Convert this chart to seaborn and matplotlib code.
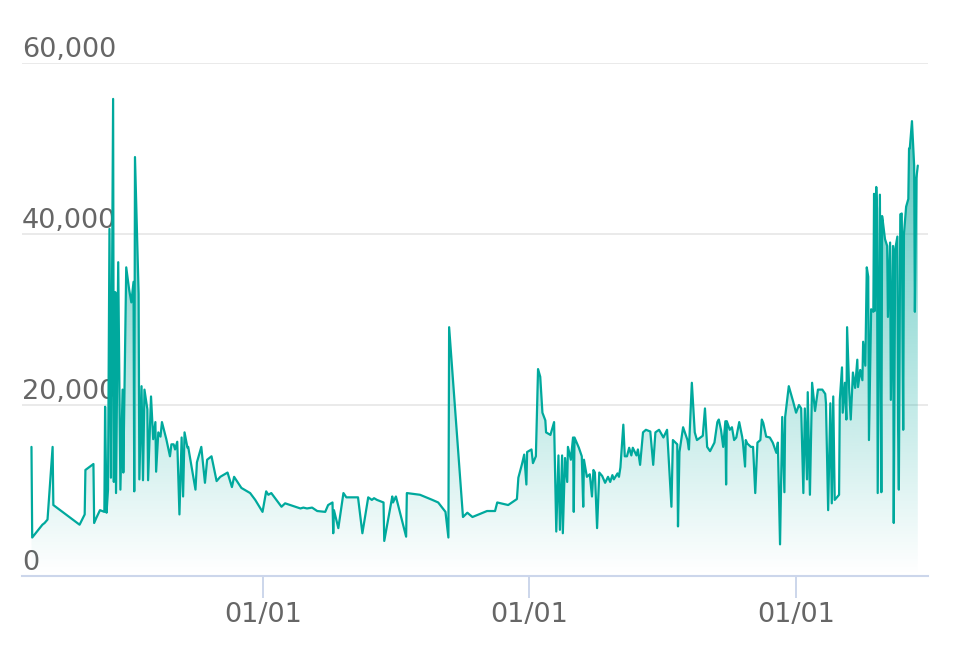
import numpy as np
import pandas as pd
import matplotlib
matplotlib.use("Agg")
import matplotlib.pyplot as plt
import matplotlib.dates as mdates
from matplotlib.colors import to_rgb
from matplotlib.ticker import FuncFormatter
import seaborn as sns

# data: days after 2019-01-01 and the value on that day
start = pd.Timestamp("2019-01-01")
day_offsets = [
    -318, -317, -303, -300, -296, -289, -288, -252, -245, -244, -233, -232, -229, -224,
    -218, -217, -215, -213, -211, -209, -206, -205, -203, -202, -199, -196, -193, -192,
    -188, -184, -181, -178, -177, -176, -171, -170, -167, -165, -163, -159, -158, -154,
    -151, -148, -147, -144, -141, -139, -133, -128, -126,
    -123, -121, -118, -115, -112, -110, -108, -104, -103, -93, -91, -85, -80, -77, -71,
    -64, -59, -49, -43, -40, -30, -18, -11, -1, 4, 7, 11, 25, 30, 51, 55, 60, 67, 74, 85, 89,
    95, 96, 97, 103, 110, 114, 130, 136, 144, 149, 152, 156, 165, 166, 177, 178, 182, 196,
    197, 215, 232, 240, 250, 254, 255, 274, 280, 287, 307, 318, 321, 336, 348, 350, 355,
    358, 361, 362, 368, 370, 374, 377, 380, 383, 387, 388, 394, 399, 402, 405, 407, 410,
    411, 414, 417, 418, 422, 425, 426, 427, 433, 437, 439, 440, 444, 448, 451, 453, 455,
    458, 461, 465, 469, 473, 476, 479, 481, 486, 488, 490, 494, 496, 499, 502, 505, 507,
    512, 514, 517,
    521, 525, 531, 535, 538, 543, 549, 554, 560, 562, 568, 569, 571, 576, 582, 584, 588,
    592, 595, 603, 606, 609, 613, 619, 623, 625, 628, 631, 634, 635, 636, 640, 643, 646,
    649, 653, 657, 658, 661, 662, 664, 669, 672, 675, 678, 682, 684, 686, 690, 695, 699,
    704, 706, 709, 712, 715, 716, 721, 727, 731, 735, 738, 741, 743, 746, 747, 750, 753,
    757, 761, 767, 771, 772, 775, 778, 780, 782, 784, 787, 790, 791, 794, 795, 798, 800,
    801, 804, 806, 809, 812, 815, 816, 819, 822, 823, 826, 828, 830, 831, 834, 837, 838,
    839, 841, 842, 843, 846, 848, 849, 850, 853, 856, 857, 860, 861, 864, 865, 867, 870,
    871, 872, 874, 876, 878, 879, 882, 885, 886, 887, 890, 893, 894, 896, 898,
]
values = [
    15100, 4500, 6000, 6200, 6600, 15100, 8300, 6000, 7200, 12400, 13100, 6200, 6800, 7700,
    7500, 19800, 7400, 10100, 40600, 11500, 55800, 11000, 33200, 9700, 36700, 10100, 21800, 12100,
    36100, 33500, 32000, 34400, 9900, 49000, 33000, 11300, 22200, 11200, 21800, 19500, 11200, 21000,
    16000, 18000, 12200, 16800, 16300, 18000, 16000, 14000, 15400,
    15400, 14800, 15700, 7200, 16200, 9300, 16800, 15000, 15100, 10100, 13300, 15100, 10900, 13600, 14000,
    11100, 11600, 12100, 10400, 11600, 10300, 9700, 8900, 7500, 9900, 9500, 9700, 8100, 8500, 7900, 8000,
    7900, 8000, 7600, 7500, 8300,
    8600, 5000, 7700, 5600, 9700, 9200, 9200, 5000, 9200, 8900, 9100, 8900, 8600, 4100, 9300, 8600, 9300, 4600,
    9700, 9500, 8900, 8600, 7500, 4500, 29100, 6900, 7400, 6900, 7600, 7600, 8600, 8300, 9000, 11500, 13100,
    14200, 10700, 14500, 14800, 13200, 14000, 24200, 23300, 19100, 18200, 16800, 16500, 18000, 5200, 14100, 5400, 14100,
    5000, 13800, 11000, 15100, 13600, 16200, 7500, 16200, 15000, 14000, 8100, 13600, 11600, 11900, 9300, 12400, 12100,
    5600, 12100, 11700, 10900, 11600, 11000, 11800, 11300, 12000, 11600, 12700, 17700, 14000, 14000, 15000, 14100, 15000,
    14100, 14800, 13000,
    16800, 17100, 16900, 13000, 16800, 17100, 16200, 17100, 8100, 15900, 15400, 5800, 14500, 17400, 15900, 14800, 22600,
    16800, 15900, 16400, 19600, 15100, 14600, 15600, 18000, 18300, 17100, 15100, 18100, 10700, 18100, 17100, 17400, 15900,
    16200, 18000, 16300, 15700, 12800, 15900, 15500, 15100, 15100, 9700, 15600, 15900, 18300, 17900, 16300, 16200, 15600,
    14400, 15600, 3700, 18600, 9800, 18600, 22200, 20400, 19100, 20000, 19600, 9700, 19600, 11300, 21500, 9500, 22600,
    19300, 21800, 21800, 21300, 20200, 7700, 20200, 8500, 21000, 8900, 9200, 9500, 20600, 24400, 19100, 22600, 18300,
    29100, 21500, 18300, 23800, 22000, 25300, 22100, 24100, 22900, 27400, 24600, 36100, 35000, 15900, 31200, 30900, 44700,
    31000, 45500, 43000, 9700, 44600, 9800, 42100, 41500, 39400, 38600, 30300, 39000, 20600, 38600, 6200, 38200, 39700,
    17100, 10100, 42300, 42400, 17100, 40000, 43200, 44100, 50000, 50000, 53200, 48000, 30900, 46500, 48000,
]
y_ticks = [0, 20000, 40000, 60000]

dates = start + pd.to_timedelta(day_offsets, unit="D")
df = pd.DataFrame({"date": dates, "value": values})

sns.set_theme(style="white")
plt.rcParams["font.family"] = ["DejaVu Sans"]

teal = "#00a99d"
grey_text = "#666666"
axis_blue = "#ccd6eb"

fig = plt.figure(figsize=(9.54, 6.56), dpi=100)
ax = fig.add_axes([22 / 954, 80 / 656, 906 / 954, 513 / 656])

sns.lineplot(data=df, x="date", y="value", ax=ax, color=teal, lw=1.6,
             estimator=None, sort=False, zorder=3)

# gradient area under the line
xnum = mdates.date2num(df["date"])
area = ax.fill_between(xnum, df["value"], 0, facecolor="none", lw=0)
rgba = np.zeros((256, 1, 4))
rgba[..., :3] = to_rgb(teal)
rgba[..., 3] = np.linspace(0.0, 0.68, 256).reshape(-1, 1)
im = ax.imshow(rgba, extent=[xnum.min(), xnum.max(), 0, max(values)],
               origin="lower", aspect="auto", zorder=2, interpolation="bilinear")
im.set_clip_path(area.get_paths()[0], transform=ax.transData)

ax.set_xlim(start + pd.Timedelta(days=-331), start + pd.Timedelta(days=912))
ax.set_ylim(0, 60000)
ax.set_xlabel("")
ax.set_ylabel("")

ax.xaxis.set_major_locator(mdates.YearLocator())
ax.xaxis.set_major_formatter(mdates.DateFormatter("%m/%d"))
ax.tick_params(axis="x", direction="out", length=16, width=1.4, color=axis_blue,
               labelsize=19.5, labelcolor=grey_text, pad=3, bottom=True)

ax.set_yticks(y_ticks)
ax.yaxis.set_major_formatter(FuncFormatter(lambda v, p: f"{int(v):,}"))
ax.tick_params(axis="y", length=0, pad=0, labelsize=19.5, labelcolor=grey_text)
for lbl in ax.get_yticklabels():
    lbl.set_horizontalalignment("left")
    lbl.set_verticalalignment("bottom")

ax.yaxis.grid(True, color="#e6e6e6", lw=1.2)
ax.xaxis.grid(False)
for side in ["top", "left", "right"]:
    ax.spines[side].set_visible(False)
ax.spines["bottom"].set_color(axis_blue)
ax.spines["bottom"].set_linewidth(1.5)
ax.spines["bottom"].set_zorder(4)

fig.savefig("out.png", dpi=100)
